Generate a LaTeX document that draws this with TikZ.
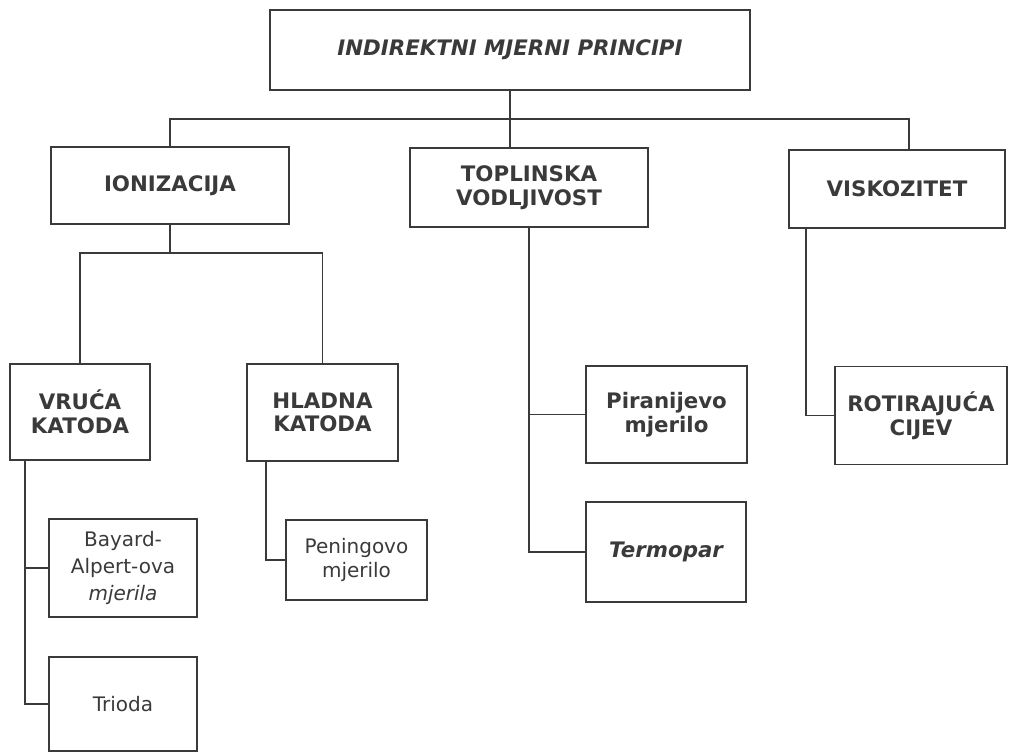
\documentclass[tikz,border=0pt]{standalone}
\usepackage{fontspec}
\setmainfont{DejaVu Sans}
\usepackage{tikz}
\definecolor{ink}{HTML}{3A3A3A}

\begin{document}
\begin{tikzpicture}[x=0.75pt, y=-0.75pt,
    box/.style={draw=ink, line width=1.2pt, text=ink, align=center, inner sep=0pt,
        font=\fontsize{15}{17.5}\selectfont},
    boldbox/.style={box, font=\fontsize{16}{17.8}\selectfont\bfseries},
    link/.style={draw=ink, line width=1.2pt}]
    \useasboundingbox (0,0) rectangle (1017,753);

    % main principle
    \node[boldbox, minimum width=360pt, minimum height=60pt] (princ) at (510,50)
        {\itshape INDIREKTNI MJERNI PRINCIPI};

    % second level
    \node[boldbox, minimum width=178.5pt, minimum height=57.75pt] (ion) at (170,185.5) {IONIZACIJA};
    \node[boldbox, minimum width=178.5pt, minimum height=59.25pt] (topl) at (529,187.5) {TOPLINSKA\\VODLJIVOST};
    \node[boldbox, minimum width=162pt, minimum height=58.5pt] (visk) at (897,189) {VISKOZITET};

    % ionizacija
    \node[boldbox, minimum width=105pt, minimum height=72pt] (vruca) at (80,412) {VRUĆA\\KATODA};
    \node[boldbox, minimum width=113.25pt, minimum height=72.75pt] (hladna) at (322.5,412.5) {HLADNA\\KATODA};
    \node[box, minimum width=111pt, minimum height=73.5pt, font=\fontsize{15}{20}\selectfont] (bayard) at (123,568)
        {Bayard-\\Alpert-ova\\\textit{mjerila}};
    \node[box, minimum width=111pt, minimum height=70.5pt] (trioda) at (123,704) {Trioda};
    \node[box, minimum width=105.75pt, minimum height=60pt] (pening) at (356.5,560) {Peningovo\\mjerilo};

    % toplinska vodljivost
    \node[boldbox, minimum width=120.75pt, minimum height=72.75pt] (piran) at (666.5,414.5) {Piranijevo\\mjerilo};
    \node[boldbox, minimum width=120pt, minimum height=75pt] (termo) at (666,552) {\itshape Termopar};

    % viskozitet
    \node[boldbox, minimum width=129pt, minimum height=73.5pt] (rotir) at (921,415.5) {ROTIRAJUĆA\\CIJEV};

    % connectors
    \coordinate (bus) at (510,119);
    \coordinate (viskin) at (909,150);
    \coordinate (ionbus) at (170,253);
    \coordinate (vrucadown) at (25,460);
    \coordinate (hladnadown) at (266,461);
    \coordinate (viskdown) at (806,228);

    \draw[link] (princ.south) -- (princ.south |- topl.north);
    \draw[link] (ion.north) |- (bus) -| (viskin);
    \draw[link] (ion.south) -- (ionbus);
    \draw[link] (vruca.north) |- (ionbus) -| (hladna.north);
    \draw[link] (vrucadown) |- (trioda.west);
    \draw[link] (vrucadown |- bayard.west) -- (bayard.west);
    \draw[link] (hladnadown) |- (pening.west);
    \draw[link] (topl.south) |- (termo.west);
    \draw[link] (topl.south |- piran.west) -- (piran.west);
    \draw[link] (viskdown) |- (rotir.west);
\end{tikzpicture}
\end{document}
